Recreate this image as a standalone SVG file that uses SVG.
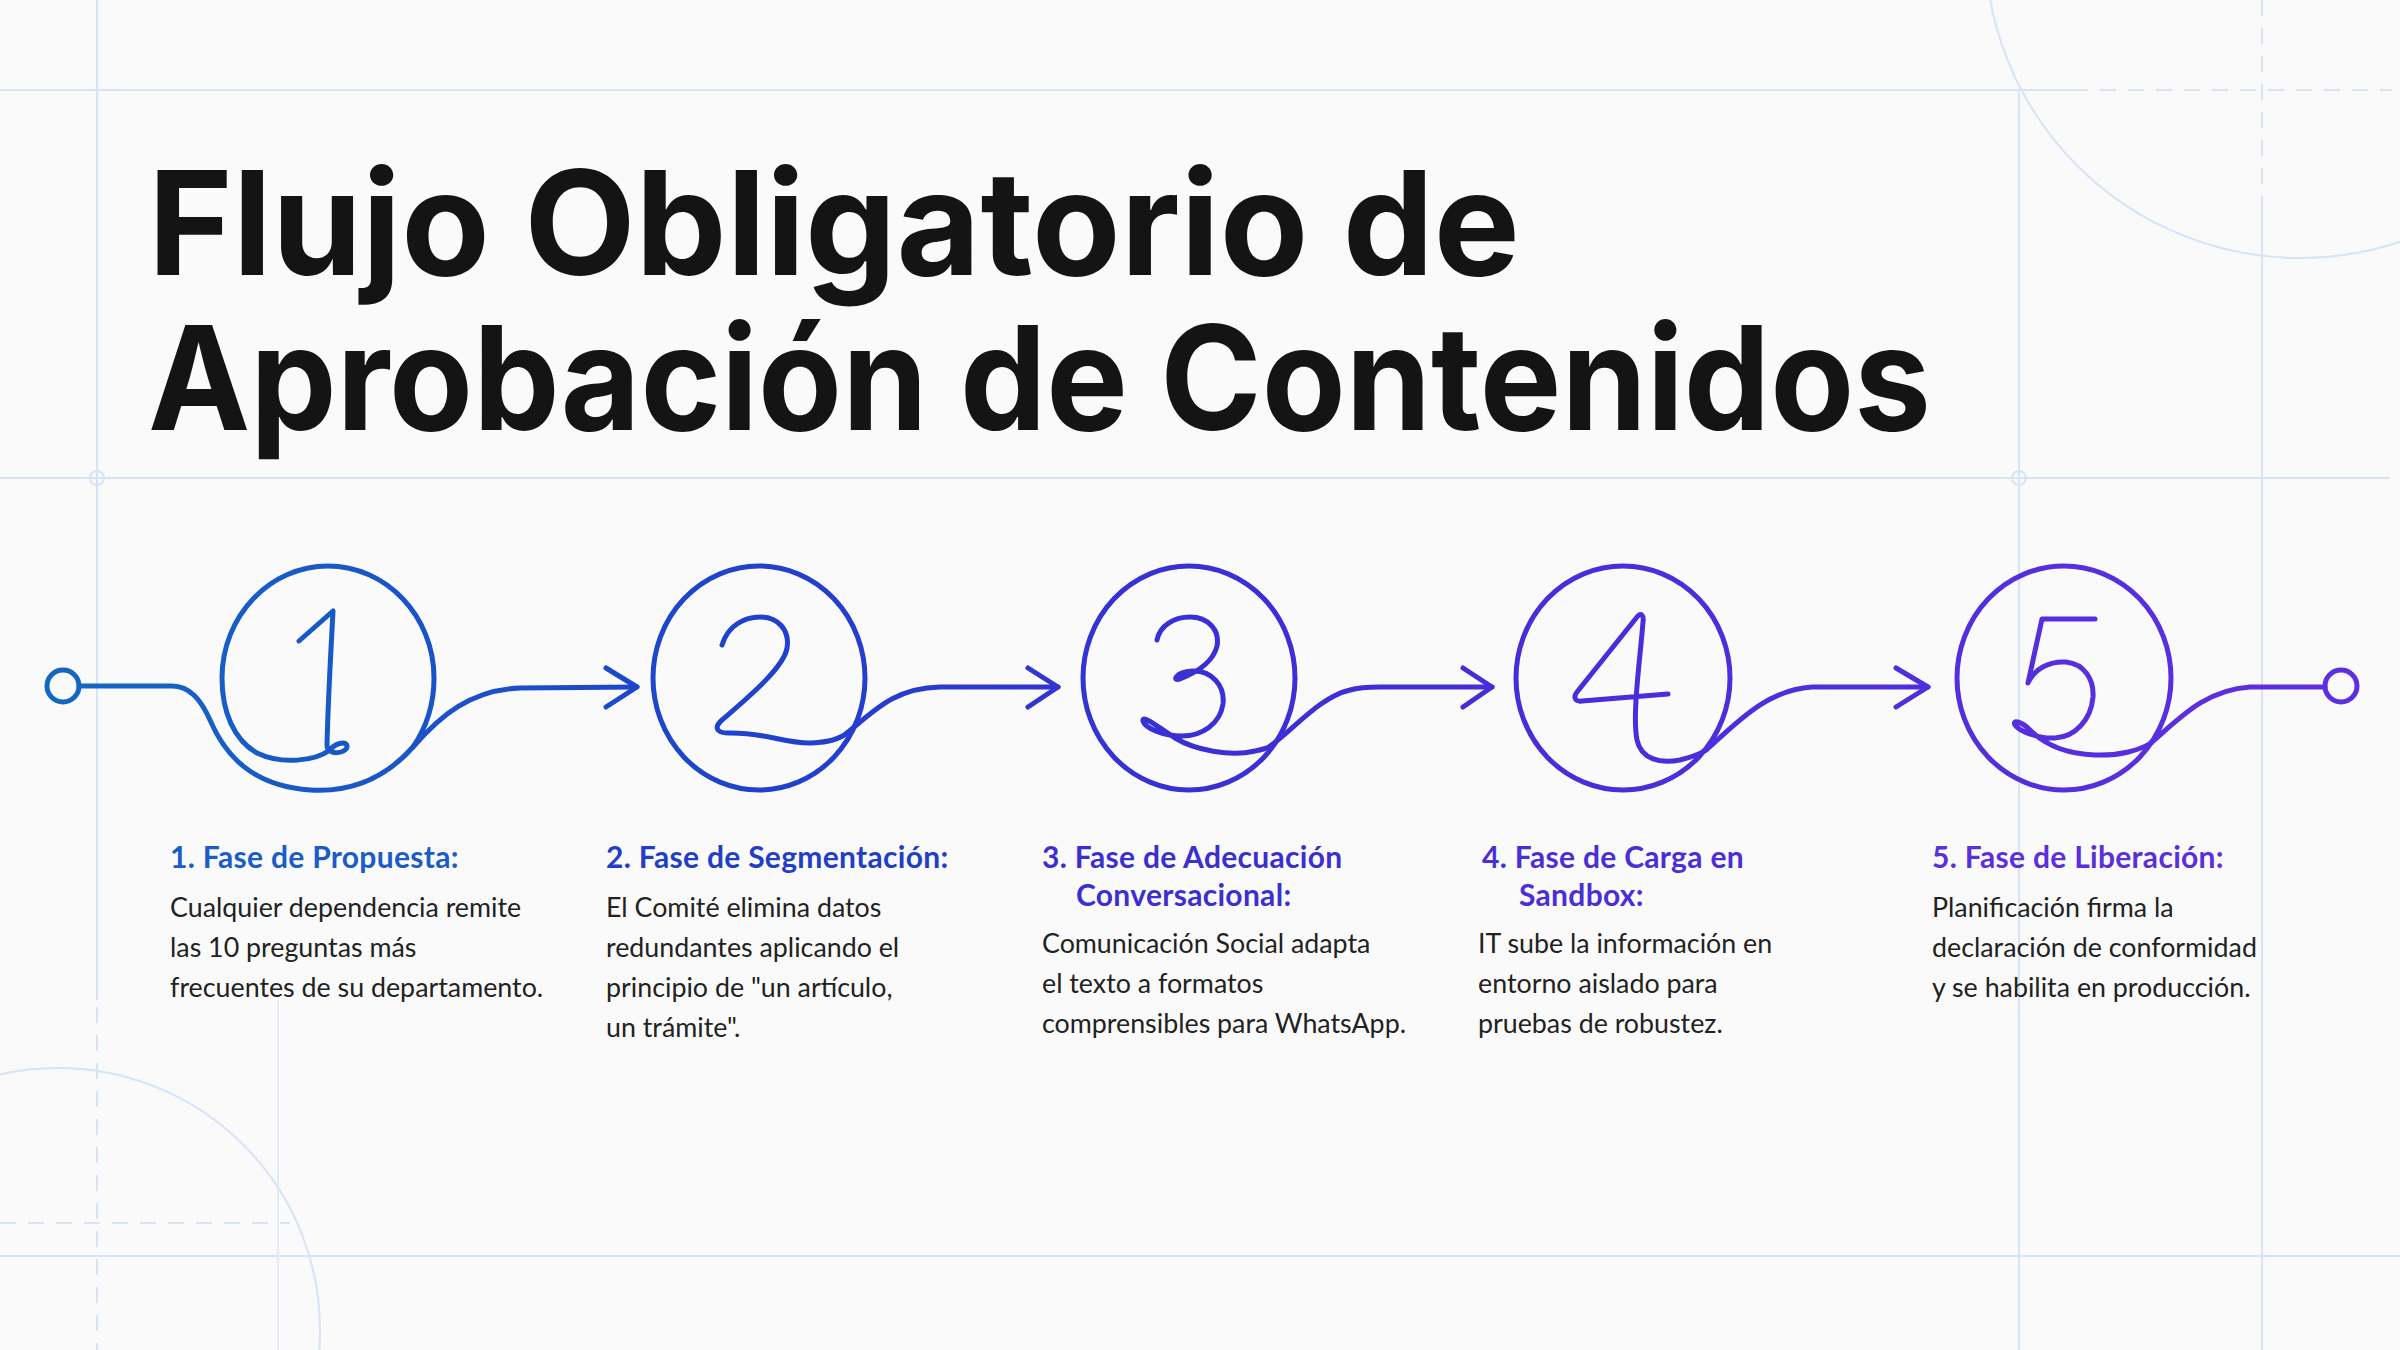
<svg xmlns="http://www.w3.org/2000/svg" width="2400" height="1350" viewBox="0 0 2400 1350">
<defs>
<linearGradient id="flow" gradientUnits="userSpaceOnUse" x1="60" y1="0" x2="2345" y2="0">
<stop offset="0" stop-color="#1466c4"/>
<stop offset="0.3" stop-color="#1f42cc"/>
<stop offset="0.5" stop-color="#3a2fd6"/>
<stop offset="0.72" stop-color="#4b2edc"/>
<stop offset="1" stop-color="#5e2fe0"/>
</linearGradient>
<style>
.grid{stroke:#d7e3f6;stroke-width:2;fill:none}
.faint{stroke:#e3ebf7;stroke-width:2;fill:none}
.dash{stroke:#d7e3f6;stroke-width:2;fill:none;stroke-dasharray:16 12}
.ink{fill:none;stroke:url(#flow);stroke-width:5;stroke-linecap:round;stroke-linejoin:round}
.title{font-family:Inter,"Liberation Sans",sans-serif;font-weight:700;font-size:145px;fill:#141414}
.head{font-family:Lato,"Open Sans",sans-serif;font-weight:700;font-size:30px;letter-spacing:0.3px}
.body{font-family:Lato,"Open Sans",sans-serif;font-size:26.8px;fill:#222222}
</style>
</defs>
<rect width="2400" height="1350" fill="#fafafa"/>
<g id="grid">
<line class="grid" x1="0" y1="90" x2="2072" y2="90"/>
<line class="dash" x1="2072" y1="90" x2="2392" y2="90"/>
<line class="grid" x1="0" y1="478" x2="2390" y2="478"/>
<line class="grid" x1="0" y1="1256" x2="2400" y2="1256"/>
<line class="dash" x1="0" y1="1223" x2="290" y2="1223"/>
<line class="grid" x1="97" y1="0" x2="97" y2="1000"/>
<line class="dash" x1="97" y1="1007" x2="97" y2="1350"/>
<line class="grid" x1="2019" y1="90" x2="2019" y2="1350"/>
<line class="dash" x1="2262" y1="0" x2="2262" y2="210"/>
<line class="grid" x1="2262" y1="210" x2="2262" y2="1350"/>
<line class="faint" x1="278" y1="1000" x2="278" y2="1350"/>
<circle class="grid" cx="2300" cy="-57" r="315"/>
<circle class="grid" cx="58" cy="1330" r="262"/>
<circle class="grid" cx="97" cy="478" r="7"/>
<circle class="grid" cx="2019" cy="478" r="7"/>
</g>
<g id="title">
<text class="title" x="148" y="275" textLength="1372" lengthAdjust="spacingAndGlyphs">Flujo Obligatorio de</text>
<text class="title" x="148" y="430" textLength="1783" lengthAdjust="spacingAndGlyphs">Aprobación de Contenidos</text>
</g>
<g id="connectors">
<circle class="ink" cx="63" cy="686" r="16"/>
<path class="ink" d="M79,686 L172,686 C190,686 201,700 210,720 C225,755 252,786 310,790 C358,793 390,773 413,747 C440,716 470,690 520,688 L637,687"/>
<path class="ink" d="M606,668 L637,687 L606,707"/>
<path class="ink" d="M847,733 C875,710 895,688 940,687 L1058,687"/>
<path class="ink" d="M1028,668 L1058,687 L1028,707"/>
<path class="ink" d="M1269,747 C1295,728 1320,697 1350,690 C1360,687 1370,687 1380,687 L1492,687"/>
<path class="ink" d="M1463,668 L1492,687 L1463,707"/>
<path class="ink" d="M1706,750 C1735,725 1765,690 1812,687 L1928,687"/>
<path class="ink" d="M1896,668 L1928,687 L1896,707"/>
<path class="ink" d="M2151,743 C2180,718 2205,690 2250,687 L2325,687"/>
<circle class="ink" cx="2341" cy="686" r="16"/>
</g>
<g id="node1">
<path class="ink" d="M299,641 L333,611 C331,650 328,700 327,745 C327,757 348,753 347,746 C346,740 334,744 330,750 C315,761 282,765 257,753 C234,740 222,712 222,678 C222,616 270,566 328,566 C386,566 434,616 434,678 C434,706 426,728 413,747"/>
<text class="head" x="170" y="868" fill="#1a5cc8">1. Fase de Propuesta:</text>
<text class="body" x="170" y="917">Cualquier dependencia remite</text>
<text class="body" x="170" y="957">las 10 preguntas más</text>
<text class="body" x="170" y="997">frecuentes de su departamento.</text>
</g>
<g id="node2">
<ellipse class="ink" cx="759" cy="678" rx="106" ry="112"/>
<path class="ink" d="M722,645 C728,625 745,617 760,617 C778,617 790,630 787,648 C784,668 745,700 722,720 C714,727 716,733 728,733 C765,732 785,744 812,743 C830,742 840,739 847,733"/>
<text class="head" x="606" y="868" fill="#1f3fc8">2. Fase de Segmentación:</text>
<text class="body" x="606" y="917">El Comité elimina datos</text>
<text class="body" x="606" y="957">redundantes aplicando el</text>
<text class="body" x="606" y="997">principio de "un artículo,</text>
<text class="body" x="606" y="1037">un trámite".</text>
</g>
<g id="node3">
<ellipse class="ink" cx="1189" cy="678" rx="106" ry="112"/>
<path class="ink" d="M1157,640 C1160,625 1175,617 1190,617 C1208,617 1220,630 1217,646 C1213,663 1195,673 1180,679 C1172,682 1175,672 1192,671 C1212,670 1225,686 1223,704 C1220,724 1202,736 1182,736 C1163,736 1145,728 1143,721 C1142,714 1158,727 1175,738 C1195,750 1230,757 1255,751 C1260,750 1265,749 1269,747"/>
<text class="head" x="1042" y="868" fill="#3c2fd0">3. Fase de Adecuación</text>
<text class="head" x="1076" y="906" fill="#3c2fd0">Conversacional:</text>
<text class="body" x="1042" y="953">Comunicación Social adapta</text>
<text class="body" x="1042" y="993">el texto a formatos</text>
<text class="body" x="1042" y="1033">comprensibles para WhatsApp.</text>
</g>
<g id="node4">
<ellipse class="ink" cx="1623" cy="678" rx="107" ry="112"/>
<path class="ink" d="M1668,694 L1582,701 C1575,702 1573,697 1577,692 L1637,617 C1641,612 1644,615 1643,622 C1640,660 1632,715 1637,740 C1641,759 1660,764 1680,760 C1692,757 1700,754 1706,750"/>
<text class="head" x="1482" y="868" fill="#4a2ed6">4. Fase de Carga en</text>
<text class="head" x="1519" y="906" fill="#4a2ed6">Sandbox:</text>
<text class="body" x="1478" y="953">IT sube la información en</text>
<text class="body" x="1478" y="993">entorno aislado para</text>
<text class="body" x="1478" y="1033">pruebas de robustez.</text>
</g>
<g id="node5">
<ellipse class="ink" cx="2064" cy="678" rx="107" ry="112"/>
<path class="ink" d="M2095,619 L2042,619 L2028,683 C2035,668 2050,661 2066,662 C2085,664 2094,680 2093,697 C2091,720 2075,737 2055,738 C2040,739 2020,732 2015,725 C2012,719 2022,722 2030,730 C2045,745 2068,754 2095,755 C2120,756 2140,750 2151,743"/>
<text class="head" x="1932" y="868" fill="#5a2fdc">5. Fase de Liberación:</text>
<text class="body" x="1932" y="917">Planificación firma la</text>
<text class="body" x="1932" y="957">declaración de conformidad</text>
<text class="body" x="1932" y="997">y se habilita en producción.</text>
</g>
</svg>
